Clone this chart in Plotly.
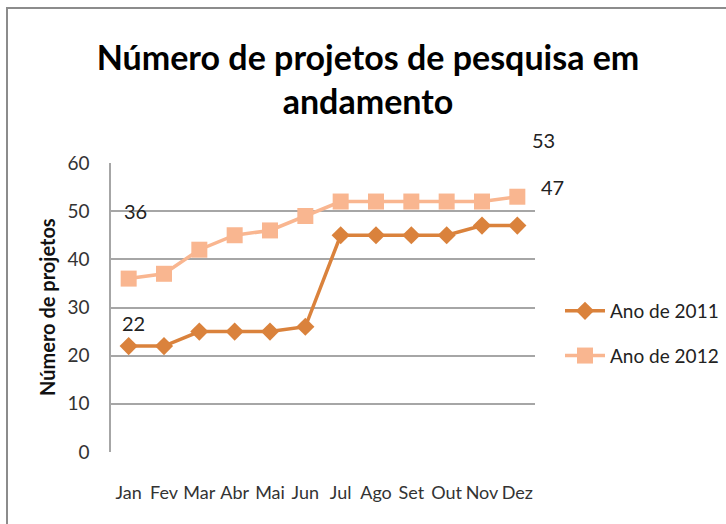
import plotly.graph_objects as go

months = ["Jan", "Fev", "Mar", "Abr", "Mai", "Jun", "Jul", "Ago", "Set", "Out", "Nov", "Dez"]
ano_2011 = [22, 22, 25, 25, 25, 26, 45, 45, 45, 45, 47, 47]
ano_2012 = [36, 37, 42, 45, 46, 49, 52, 52, 52, 52, 52, 53]
y_ticks = [0, 10, 20, 30, 40, 50, 60]

FONT = "Lato, Roboto, sans-serif"
C2011 = "#DA823C"
C2012 = "#F9B690"
GRID = "#A6A6A6"

fig = go.Figure()
fig.add_trace(go.Scatter(
    x=months, y=ano_2011, name="Ano de 2011", mode="lines+markers",
    line=dict(color=C2011, width=3.5),
    marker=dict(symbol="diamond", size=14, color=C2011),
    legendgroup="a", cliponaxis=False,
))
fig.add_trace(go.Scatter(
    x=months, y=ano_2012, name="Ano de 2012", mode="lines+markers",
    line=dict(color=C2012, width=3.5),
    marker=dict(symbol="square", size=16, color=C2012),
    legendgroup="b", cliponaxis=False,
))

L, R, T, B = 111, 191, 163, 72
W, H = 726, 524
pw, ph = W - L - R, H - T - B

def px(x):
    return (x - L) / pw

def py(y):
    return (H - B - y) / ph

annotations = [
    dict(x=months[0], y=ano_2012[0], text=str(ano_2012[0]), xshift=7, yshift=68),
    dict(x=months[0], y=ano_2011[0], text=str(ano_2011[0]), xshift=5, yshift=23),
    dict(x=months[-1], y=ano_2012[-1], text=str(ano_2012[-1]), xshift=26, yshift=57),
    dict(x=months[-1], y=ano_2011[-1], text=str(ano_2011[-1]), xshift=35, yshift=39),
]
for a in annotations:
    a.update(xref="x", yref="y", showarrow=False,
             font=dict(family=FONT, size=20, color="#222222"))
annotations.append(dict(
    x=px(47), y=py(307), xref="paper", yref="paper", xanchor="center", yanchor="middle",
    text="<b>Número de projetos</b>",
    textangle=-90, showarrow=False, font=dict(family=FONT, size=20, color="#111111"),
))

shapes = [
    dict(type="line", xref="paper", yref="paper", x0=px(7), x1=px(7), y0=py(8), y1=py(530),
         line=dict(color="#8C8C8C", width=2)),
    dict(type="line", xref="paper", yref="paper", x0=px(6), x1=px(730), y0=py(8), y1=py(8),
         line=dict(color="#8C8C8C", width=2)),
]

fig.update_layout(
    width=W, height=H,
    margin=dict(l=L, r=R, t=T, b=B, autoexpand=False),
    paper_bgcolor="white", plot_bgcolor="white",
    font=dict(family=FONT, size=19, color="#333333"),
    title=dict(
        text="<b>Número de projetos de pesquisa em<br>andamento</b>",
        x=368 / W, xanchor="center", y=1 - 70 / H, yanchor="middle",
        font=dict(family=FONT, size=34, color="#000000"),
    ),
    xaxis=dict(
        type="category", range=[-0.5, 11.5], showgrid=False, tickangle=0,
        showline=False, zeroline=False, ticks="", ticklabelstandoff=28,
        tickfont=dict(family=FONT, size=18, color="#333333"),
    ),
    yaxis=dict(
        range=[0, 60], tickvals=y_ticks, showgrid=True, gridcolor=GRID, gridwidth=1.5,
        showline=True, linecolor=GRID, linewidth=1.5, zeroline=False, ticks="",
        ticklabelstandoff=16, tickfont=dict(family=FONT, size=19, color="#333333"),
    ),
    showlegend=True,
    legend=dict(
        x=px(560), y=py(292), xanchor="left", yanchor="top",
        traceorder="grouped", tracegroupgap=17,
        font=dict(family=FONT, size=19, color="#222222"),
        bgcolor="rgba(0,0,0,0)", itemwidth=40,
    ),
    annotations=annotations,
    shapes=shapes,
)

fig.write_html("out.html", config={"displayModeBar": False},
               post_script="document.body.style.margin='0';")
